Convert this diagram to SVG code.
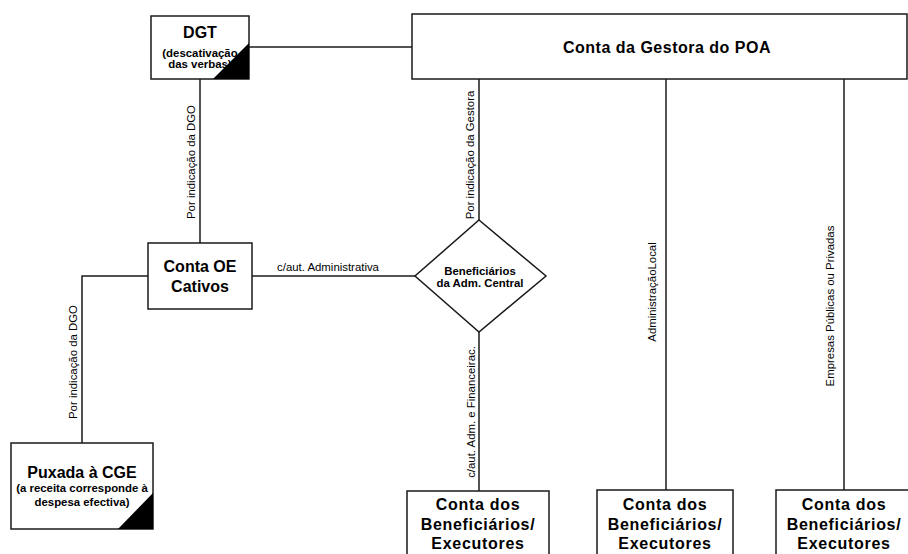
<svg xmlns="http://www.w3.org/2000/svg" width="908" height="554" viewBox="0 0 908 554">
<style>
.box{fill:#fff;stroke:#1a1a1a;stroke-width:1.5}
.ln{fill:none;stroke:#1a1a1a;stroke-width:1.5}
.blk{fill:#000}
.t{font-family:"Liberation Sans",Arial,sans-serif;fill:#000;text-anchor:middle}
.b16{font-size:16px;font-weight:bold}
.bx{font-size:16px;font-weight:bold;letter-spacing:0.7px}
.b11{font-size:11.4px;font-weight:bold}
.lb{font-size:11.4px}
</style>
<rect width="908" height="554" fill="#fff"/>
<g id="connectors">
<line class="ln" x1="249" y1="47" x2="412" y2="47"/>
<line class="ln" x1="200" y1="79" x2="200" y2="243"/>
<line class="ln" x1="252" y1="276" x2="415" y2="276"/>
<polyline class="ln" points="148,276 82,276 82,443"/>
<line class="ln" x1="479" y1="79" x2="479" y2="220"/>
<line class="ln" x1="479" y1="332" x2="479" y2="491"/>
<line class="ln" x1="666" y1="79" x2="666" y2="490"/>
<line class="ln" x1="844" y1="79" x2="844" y2="490"/>
<text class="t lb" transform="translate(195,162) rotate(-90)">Por indicação da DGO</text>
<text class="t lb" x="328" y="271">c/aut. Administrativa</text>
<text class="t lb" transform="translate(77,362) rotate(-90)">Por indicação da DGO</text>
<text class="t lb" transform="translate(474,155) rotate(-90)">Por indicação da Gestora</text>
<text class="t lb" transform="translate(475,412) rotate(-90)">c/aut. Adm. e Financeirac.</text>
<text class="t lb" transform="translate(656,292) rotate(-90)">AdministraçãoLocal</text>
<text class="t lb" transform="translate(834,306) rotate(-90)">Empresas Públicas ou Privadas</text>
</g>
<g id="dgt">
<rect class="box" x="151" y="16" width="98" height="63"/>
<text class="t b16" x="200" y="38">DGT</text>
<text class="t b11" x="200" y="57">(descativação</text>
<text class="t b11" x="200" y="68">das verbas)</text>
<polygon class="blk" points="213,79 249,79 249,43"/>
</g>
<g id="gestora">
<rect class="box" x="412" y="14" width="495" height="65"/>
<text class="t b16" x="667" y="53" style="letter-spacing:0.5px">Conta da Gestora do POA</text>
</g>
<g id="conta-oe">
<rect class="box" x="148" y="243" width="104" height="66"/>
<text class="t b16" x="200" y="272">Conta OE</text>
<text class="t b16" x="200" y="292">Cativos</text>
</g>
<g id="puxada">
<rect class="box" x="11" y="443" width="142" height="86"/>
<text class="t b16" x="82" y="478">Puxada à CGE</text>
<text class="t b11" x="82" y="492">(a receita corresponde à</text>
<text class="t b11" x="82" y="506">despesa efectiva)</text>
<polygon class="blk" points="118,529 153,529 153,493"/>
</g>
<g id="beneficiarios-central">
<polygon class="box" points="479,220 546,276 479,332 415,276"/>
<text class="t b11" x="480" y="275">Beneficiários</text>
<text class="t b11" x="480" y="287">da Adm. Central</text>
</g>
<g id="exec1">
<rect class="box" x="407" y="491" width="142" height="70"/>
<text class="t bx" x="478" y="510">Conta dos</text>
<text class="t bx" x="478" y="530">Beneficiários/</text>
<text class="t bx" x="478" y="549">Executores</text>
</g>
<g id="exec2">
<rect class="box" x="597" y="490" width="136" height="70"/>
<text class="t bx" x="665" y="510">Conta dos</text>
<text class="t bx" x="665" y="530">Beneficiários/</text>
<text class="t bx" x="665" y="549">Executores</text>
</g>
<g id="exec3">
<rect class="box" x="776" y="490" width="140" height="70"/>
<text class="t bx" x="844" y="510">Conta dos</text>
<text class="t bx" x="844" y="530">Beneficiários/</text>
<text class="t bx" x="844" y="549">Executores</text>
</g>
</svg>
